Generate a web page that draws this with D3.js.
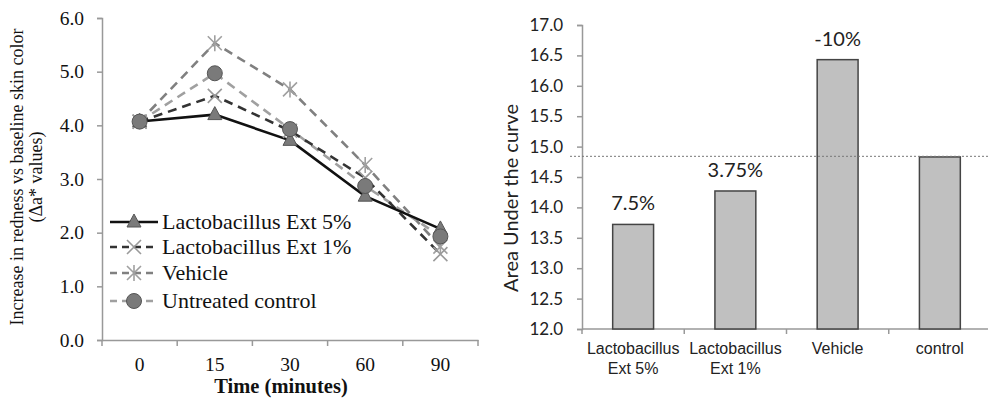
<!DOCTYPE html>
<html><head><meta charset="utf-8">
<script src="https://cdn.jsdelivr.net/npm/d3@7"></script>
<style>body{margin:0;background:#fff}svg{display:block}</style>
</head><body>
<svg id="c" width="988" height="400"></svg>
<script>
// ---- Left chart data ----
const times = ["0", "15", "30", "60", "90"];
const lacto5 = [4.07, 4.20, 3.72, 2.68, 2.07];
const lacto1 = [4.07, 4.55, 3.90, 3.02, 1.60];
const vehicle = [4.07, 5.53, 4.67, 3.26, 1.74];
const untreated = [4.07, 4.97, 3.93, 2.87, 1.93];
const seriesNames = ["Lactobacillus Ext 5%", "Lactobacillus Ext 1%", "Vehicle", "Untreated control"];
const leftTicks = [0, 1, 2, 3, 4, 5, 6];

// ---- Right chart data ----
const groups = [["Lactobacillus", "Ext 5%"], ["Lactobacillus", "Ext 1%"], ["Vehicle"], ["control"]];
const auc = [13.72, 14.27, 16.43, 14.83];
const pctLabels = ["7.5%", "3.75%", "-10%", ""];
const rightTicks = [12, 12.5, 13, 13.5, 14, 14.5, 15, 15.5, 16, 16.5, 17];
const controlRef = 14.84;

const svg = d3.select("#c");
const serif = "'Liberation Serif','Times New Roman',serif";
const sans = "Lato,'Open Sans',sans-serif";

// ================= LEFT =================
const L = {x0: 102, x1: 478, y0: 340, y1: 18};
const xL = d3.scaleBand().domain(times).range([L.x0, L.x1]);
const yL = d3.scaleLinear().domain([0, 6]).range([L.y0, L.y1]);

// y axis
const gyL = svg.append("g").attr("transform", `translate(${L.x0},0)`)
  .call(d3.axisLeft(yL).tickValues(leftTicks).tickFormat(d3.format(".1f")).tickSize(5).tickPadding(13));
gyL.select(".domain").attr("stroke", "#999").attr("stroke-width", 1.5);
gyL.selectAll(".tick line").attr("stroke", "#999").attr("stroke-width", 1.5);
gyL.selectAll("text").attr("font-family", serif).attr("font-size", 19.5).attr("fill", "#111");

// x axis
const gxL = svg.append("g").attr("transform", `translate(0,${L.y0})`)
  .call(d3.axisBottom(xL).tickSize(0).tickPadding(17));
gxL.select(".domain").attr("stroke", "#999").attr("stroke-width", 1.5);
gxL.selectAll("text").attr("font-family", serif).attr("font-size", 19.5).attr("fill", "#111");
// tick marks between categories
const bordersL = [L.x0].concat(times.map(t => xL(t) + xL.bandwidth()));
svg.append("g").selectAll("line").data(bordersL).join("line")
  .attr("x1", d => d).attr("x2", d => d).attr("y1", L.y0).attr("y2", L.y0 + 6)
  .attr("stroke", "#999").attr("stroke-width", 1.5);

// axis titles
svg.append("text").attr("transform", "translate(23,177) rotate(-90)")
  .attr("text-anchor", "middle").attr("font-family", serif).attr("font-size", 18).attr("fill", "#111")
  .text("Increase in redness vs baseline skin color");
svg.append("text").attr("transform", "translate(42,177) rotate(-90)")
  .attr("text-anchor", "middle").attr("font-family", serif).attr("font-size", 18).attr("fill", "#111")
  .text("(Δa* values)");
svg.append("text").attr("x", 281).attr("y", 393).attr("text-anchor", "middle")
  .attr("font-family", serif).attr("font-size", 20.5).attr("font-weight", "bold").attr("fill", "#111")
  .text("Time (minutes)");

const cx = i => xL(times[i]) + xL.bandwidth() / 2;
const styles = [
  {data: lacto5, stroke: "#111", dash: null, width: 2.6, marker: "tri"},
  {data: lacto1, stroke: "#333", dash: "9,6", width: 2.6, marker: "x"},
  {data: vehicle, stroke: "#808080", dash: "9,6", width: 2.6, marker: "star"},
  {data: untreated, stroke: "#a0a0a0", dash: "9,6", width: 2.6, marker: "circle"}
];
const line = d3.line().x((d, i) => cx(i)).y(d => yL(d));

function drawMarker(g, type, x, y) {
  if (type === "tri") {
    g.append("path").attr("d", `M${x},${y-8}L${x+7},${y+5}L${x-7},${y+5}Z`)
      .attr("fill", "#7a7a7a").attr("stroke", "#555").attr("stroke-width", 1);
  } else if (type === "x") {
    g.append("path").attr("d", `M${x-7},${y-7}L${x+7},${y+7}M${x-7},${y+7}L${x+7},${y-7}`)
      .attr("stroke", "#9a9a9a").attr("stroke-width", 1.6).attr("fill", "none");
  } else if (type === "star") {
    g.append("path").attr("d", `M${x-7},${y-7}L${x+7},${y+7}M${x-7},${y+7}L${x+7},${y-7}M${x},${y-8}L${x},${y+8}`)
      .attr("stroke", "#a0a0a0").attr("stroke-width", 1.6).attr("fill", "none");
  } else {
    g.append("circle").attr("cx", x).attr("cy", y).attr("r", 7.5)
      .attr("fill", "#7a7a7a").attr("stroke", "#555").attr("stroke-width", 1);
  }
}

// draw order: vehicle, untreated, lacto1, lacto5 lines
[2, 3, 1, 0].forEach(si => {
  const s = styles[si];
  svg.append("path").datum(s.data).attr("d", line).attr("fill", "none")
    .attr("stroke", s.stroke).attr("stroke-width", s.width)
    .attr("stroke-dasharray", s.dash).attr("stroke-linejoin", "round");
});
[2, 1, 0, 3].forEach(si => {
  const s = styles[si];
  const g = svg.append("g");
  s.data.forEach((d, i) => drawMarker(g, s.marker, cx(i), yL(d)));
});

// legend
const legY = [222, 247, 273, 301];
seriesNames.forEach((name, i) => {
  const s = styles[i];
  const y = legY[i];
  const g = svg.append("g");
  g.append("line").attr("x1", 110).attr("x2", 158).attr("y1", y).attr("y2", y)
    .attr("stroke", s.stroke).attr("stroke-width", s.width).attr("stroke-dasharray", s.dash ? "7,5" : null);
  drawMarker(g, s.marker, 134, y);
  g.append("text").attr("x", 162).attr("y", y + 7).attr("font-family", serif)
    .attr("font-size", 22).attr("fill", "#111").text(name);
});

// ================= RIGHT =================
const R = {x0: 582, x1: 991, y0: 329, y1: 25};
const xR = d3.scaleBand().domain(d3.range(groups.length)).range([R.x0, R.x1]).paddingInner(0.6).paddingOuter(0.3);
const xRb = d3.scaleBand().domain(d3.range(groups.length)).range([R.x0, R.x1]);
const yR = d3.scaleLinear().domain([12, 17]).range([R.y0, R.y1]);

const gyR = svg.append("g").attr("transform", `translate(${R.x0},0)`)
  .call(d3.axisLeft(yR).tickValues(rightTicks).tickFormat(d3.format(".1f")).tickSize(5).tickPadding(14));
gyR.select(".domain").attr("stroke", "#999").attr("stroke-width", 1.5);
gyR.selectAll(".tick line").attr("stroke", "#999").attr("stroke-width", 1.5);
gyR.selectAll("text").attr("font-family", sans).attr("font-size", 17).attr("fill", "#222");

svg.append("line").attr("x1", R.x0).attr("x2", R.x1).attr("y1", R.y0).attr("y2", R.y0)
  .attr("stroke", "#999").attr("stroke-width", 1.5);
const bordersR = d3.range(groups.length + 1).map(i => R.x0 + i * xRb.bandwidth());
svg.append("g").selectAll("line").data(bordersR).join("line")
  .attr("x1", d => d).attr("x2", d => d).attr("y1", R.y0).attr("y2", R.y0 + 5)
  .attr("stroke", "#999").attr("stroke-width", 1.5);

// bars
svg.append("g").selectAll("rect").data(auc).join("rect")
  .attr("x", (d, i) => xR(i)).attr("width", xR.bandwidth())
  .attr("y", d => yR(d)).attr("height", d => R.y0 - yR(d))
  .attr("fill", "#c0c0c0").attr("stroke", "#444").attr("stroke-width", 1.5);

// reference dotted line
svg.append("line").attr("x1", 570).attr("x2", 988).attr("y1", yR(controlRef)).attr("y2", yR(controlRef))
  .attr("stroke", "#777").attr("stroke-width", 1).attr("stroke-dasharray", "2,2");

// percent labels
svg.append("g").selectAll("text").data(pctLabels).join("text")
  .attr("x", (d, i) => xR(i) + xR.bandwidth() / 2).attr("y", (d, i) => yR(auc[i]) - 14)
  .attr("text-anchor", "middle").attr("font-family", sans).attr("font-size", 20).attr("fill", "#222")
  .text(d => d);

// category labels
groups.forEach((lines, i) => {
  const t = svg.append("text").attr("text-anchor", "middle")
    .attr("font-family", "'Liberation Sans',Arial,sans-serif").attr("font-size", 16).attr("fill", "#222");
  lines.forEach((ln, j) => t.append("tspan").attr("x", xRb(i) + xRb.bandwidth() / 2).attr("y", 354 + j * 20).text(ln));
});

svg.append("text").attr("transform", "translate(518,198) rotate(-90)")
  .attr("text-anchor", "middle").attr("font-family", sans).attr("font-size", 20).attr("fill", "#222")
  .text("Area Under the curve");
</script>
</body></html>
